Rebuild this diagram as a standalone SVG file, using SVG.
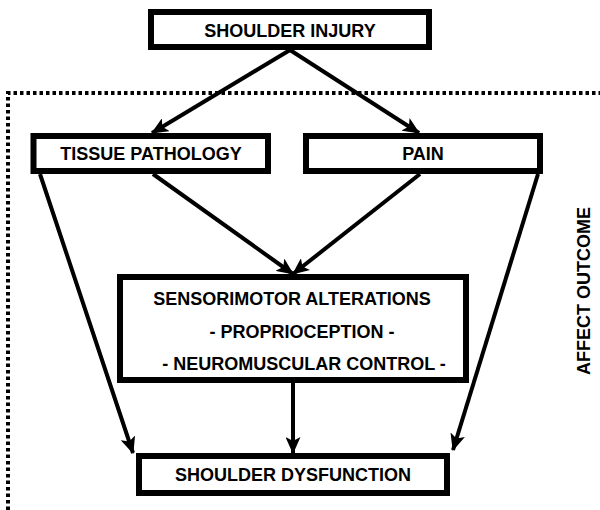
<svg xmlns="http://www.w3.org/2000/svg" width="600" height="510" viewBox="0 0 600 510">
<defs>
<style>
.box{fill:#fff;stroke:#000;stroke-width:6}
.t{font-family:"Liberation Sans",Arial,sans-serif;font-weight:bold;font-size:18px;fill:#000;text-anchor:middle}
.c{stroke:#000;stroke-width:4;fill:none;marker-end:url(#ah)}
.dot{stroke:#000;stroke-width:4;fill:none;stroke-dasharray:3.5 3}
</style>
<marker id="ah" markerUnits="userSpaceOnUse" markerWidth="17" markerHeight="15" viewBox="0 0 17 15" refX="16" refY="7.5" orient="auto">
<path d="M0,0 L17,7.5 L0,15 L4,7.5 Z" fill="#000"/>
</marker>
</defs>
<rect width="600" height="510" fill="#fff"/>
<path class="dot" d="M8,510 V93 H600"/>
<g id="connectors">
<line class="c" x1="290" y1="50" x2="152" y2="133"/>
<line class="c" x1="290" y1="50" x2="419" y2="133"/>
<line class="c" x1="153" y1="174" x2="293" y2="274"/>
<line class="c" x1="420" y1="174" x2="293" y2="274"/>
<line class="c" x1="40" y1="174" x2="133" y2="453"/>
<line class="c" x1="538" y1="174" x2="453" y2="450"/>
<line class="c" x1="293" y1="383" x2="293" y2="453"/>
</g>
<g id="injury">
<rect class="box" x="151" y="12" width="278" height="35"/>
<text class="t" x="290" y="37">SHOULDER INJURY</text>
</g>
<g id="tissue">
<rect class="box" x="33.5" y="136" width="234.5" height="35"/>
<text class="t" x="151" y="160">TISSUE PATHOLOGY</text>
</g>
<g id="pain">
<rect class="box" x="306" y="136" width="234" height="35"/>
<text class="t" x="423" y="160">PAIN</text>
</g>
<g id="sensorimotor">
<rect class="box" x="120" y="277" width="346" height="103"/>
<text class="t" x="292" y="305">SENSORIMOTOR ALTERATIONS</text>
<text class="t" x="302" y="338">- PROPRIOCEPTION -</text>
<text class="t" x="304" y="370">- NEUROMUSCULAR CONTROL -</text>
</g>
<g id="dysfunction">
<rect class="box" x="139" y="456" width="308" height="37"/>
<text class="t" x="293" y="481">SHOULDER DYSFUNCTION</text>
</g>
<g id="outcome">
<text class="t" transform="translate(590,291) rotate(-90)">AFFECT OUTCOME</text>
</g>
</svg>
